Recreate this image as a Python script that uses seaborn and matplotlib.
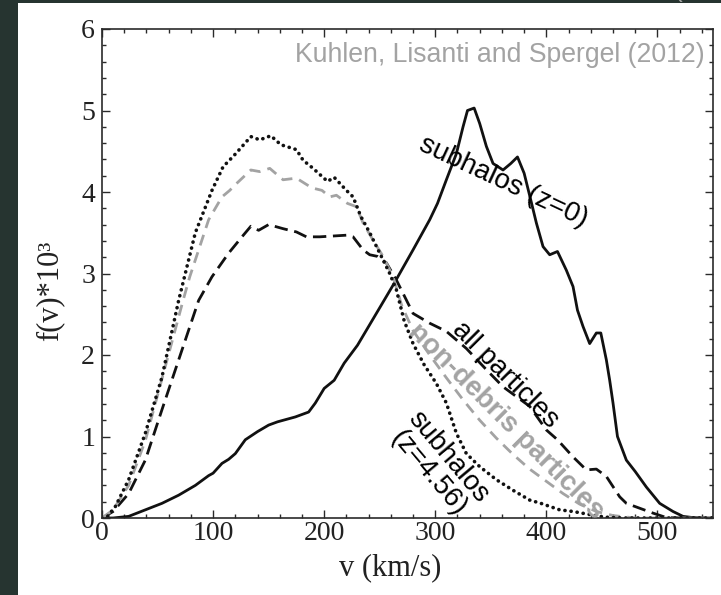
import matplotlib
matplotlib.use("Agg")
import matplotlib.pyplot as plt
import seaborn as sns
from matplotlib.patches import Rectangle
from matplotlib.ticker import MultipleLocator

# Speed distributions f(v) (x 10^3) versus v in km/s
v_sub0 = [0, 10, 24, 39, 54, 69, 84, 96, 100, 108, 114, 120, 129, 140, 150, 158, 174, 186, 192,
          200, 209, 218, 230, 240, 250, 263, 280, 295, 302, 310, 319, 325, 329, 335, 340, 346, 352,
          361, 368, 374, 380, 386, 391, 397, 403, 410, 418, 424, 428, 433, 439, 445, 449, 454, 457,
          460, 464, 472, 480, 490, 502, 514, 523, 535, 550]
f_sub0 = [0, 0.0, 0.02, 0.10, 0.18, 0.28, 0.40, 0.52, 0.55, 0.67, 0.72, 0.79, 0.96, 1.06, 1.14,
          1.18, 1.24, 1.30, 1.41, 1.59, 1.69, 1.90, 2.12, 2.35, 2.58, 2.88, 3.29, 3.66, 3.86, 4.15,
          4.47, 4.80, 5.00, 5.03, 4.84, 4.56, 4.35, 4.27, 4.35, 4.43, 4.23, 3.90, 3.62, 3.33, 3.23,
          3.27, 3.04, 2.84, 2.55, 2.35, 2.14, 2.27, 2.27, 1.94, 1.69, 1.41, 1.00, 0.71, 0.57, 0.38,
          0.18, 0.08, 0.02, 0.0, 0.0]

v_all = [0, 10, 24, 39, 54, 69, 87, 99, 114, 126, 134, 141, 150, 163, 175, 184, 196, 220, 226,
         235, 241, 248, 256, 265, 280, 295, 310, 328, 346, 361, 373, 385, 400, 410, 424, 436, 445,
         454, 466, 472, 484, 496, 507, 520, 550]
f_all = [0, 0.08, 0.30, 0.71, 1.33, 1.94, 2.67, 2.96, 3.25, 3.45, 3.58, 3.53, 3.60, 3.55, 3.51,
         3.45, 3.45, 3.47, 3.45, 3.29, 3.23, 3.21, 3.13, 2.92, 2.51, 2.39, 2.29, 2.08, 1.82, 1.61,
         1.49, 1.37, 1.08, 0.96, 0.75, 0.59, 0.60, 0.51, 0.26, 0.18, 0.12, 0.06, 0.01, 0.0, 0.0]

v_nondebris = [0, 10, 24, 39, 57, 73, 79, 96, 108, 115, 120, 134, 142, 151, 163, 175, 189, 198,
               205, 211, 221, 229, 235, 244, 253, 262, 270, 280, 295, 310, 325, 340, 355, 370,
               385, 400, 415, 430, 445, 460, 480, 550]
f_nondebris = [0, 0.10, 0.40, 0.95, 1.86, 2.67, 2.96, 3.66, 3.94, 4.02, 4.09, 4.27, 4.25, 4.29,
               4.15, 4.17, 4.05, 4.02, 3.94, 3.96, 3.86, 3.82, 3.62, 3.41, 3.21, 2.96, 2.60, 2.30,
               2.00, 1.72, 1.45, 1.20, 0.98, 0.78, 0.60, 0.45, 0.30, 0.17, 0.08, 0.03, 0.0, 0.0]

v_sub456 = [0, 5, 12, 24, 39, 54, 69, 84, 99, 109, 119, 134, 142, 152, 161, 175, 181, 190, 203,
            209, 220, 226, 233, 241, 250, 259, 265, 272, 280, 290, 301, 310, 319, 328, 340, 355,
            370, 385, 395, 412, 424, 440, 453, 470, 550]
f_sub456 = [0, 0.02, 0.14, 0.47, 1.04, 1.73, 2.67, 3.50, 4.02, 4.31, 4.45, 4.68, 4.64, 4.69,
            4.58, 4.52, 4.39, 4.29, 4.13, 4.18, 4.02, 3.94, 3.70, 3.50, 3.25, 3.00, 2.80, 2.42,
            2.14, 1.88, 1.65, 1.41, 1.04, 0.79, 0.63, 0.47, 0.34, 0.22, 0.18, 0.10, 0.08, 0.04,
            0.01, 0.0, 0.0]

x_ticks = [0, 100, 200, 300, 400, 500]
y_ticks = [0, 1, 2, 3, 4, 5, 6]

sns.set_style("ticks")
plt.rcParams["font.family"] = ["Liberation Sans", "DejaVu Sans"]

SERIF = ["Liberation Serif", "DejaVu Serif"]
GREY = "#a3a3a3"
INK = "#111111"

fig = plt.figure(figsize=(7.21, 5.95), dpi=100, facecolor="#263430")
fig.add_artist(Rectangle((18 / 721, 0), 1, 1 - 3 / 595, transform=fig.transFigure,
                         facecolor="white", edgecolor="none", zorder=-5))
ax = fig.add_axes([102 / 721, 1 - 518 / 595, 611 / 721, 489 / 595])
ax.set_facecolor("white")

sns.lineplot(x=v_sub0, y=f_sub0, ax=ax, color=INK, linewidth=2.0, sort=False,
             estimator=None, solid_joinstyle="round")
sns.lineplot(x=v_all, y=f_all, ax=ax, color=INK, linewidth=2.0, sort=False,
             estimator=None, linestyle=(0, (4.8, 2.4)))
sns.lineplot(x=v_nondebris, y=f_nondebris, ax=ax, color=GREY, linewidth=2.0, sort=False,
             estimator=None, linestyle=(0, (4.0, 2.6)))
sns.lineplot(x=v_sub456, y=f_sub456, ax=ax, color=INK, linewidth=2.6, sort=False,
             estimator=None, linestyle=(0, (0.05, 1.65)), dash_capstyle="round")

ax.set_xlim(0, 550)
ax.set_ylim(0, 6)
ax.set_xticks(x_ticks)
ax.set_yticks(y_ticks)
ax.xaxis.set_minor_locator(MultipleLocator(20))
ax.yaxis.set_minor_locator(MultipleLocator(0.2))
ax.tick_params(which="both", direction="in", top=True, right=True, color="#2a2a2a", width=1.0)
ax.tick_params(which="major", length=6)
ax.tick_params(which="minor", length=3)
ax.tick_params(axis="x", which="major", pad=2, labelsize=20)
ax.tick_params(axis="y", which="major", pad=5, labelsize=20)
for lab in ax.get_xticklabels() + ax.get_yticklabels():
    lab.set_fontfamily(SERIF)
    lab.set_color("#222222")
for sp in ax.spines.values():
    sp.set_color("#2a2a2a")
    sp.set_linewidth(1.2)

ax.set_xlabel("v (km/s)", fontfamily=SERIF, fontsize=22, color="#222222")
ax.set_ylabel("f(v)*10³", fontfamily=SERIF, fontsize=22, color="#222222")
ax.xaxis.set_label_coords(0.471, -0.072)
ax.yaxis.set_label_coords(-0.062, 0.464)

ax.text(0.987, 0.9325, "Kuhlen, Lisanti and Spergel (2012)", transform=ax.transAxes,
        ha="right", va="baseline", fontsize=19.2, color=GREY)

ax.text(361, 4.12, "subhalos (z=0)", rotation=-25, ha="center", va="center",
        fontsize=20, color="black", rotation_mode="anchor")
ax.text(363, 1.76, "all particles", rotation=-45, ha="center", va="center",
        fontsize=20, color="black", rotation_mode="anchor")
ax.text(364, 1.19, "non-debris particles", rotation=-45, ha="center", va="center",
        fontsize=20, color=GREY, fontweight="bold", rotation_mode="anchor", zorder=5)
ax.text(303, 0.65, "subhalos\n(z=4.56)", rotation=-50, ha="center", va="center",
        multialignment="center", fontsize=20, color="black", rotation_mode="anchor",
        linespacing=1.0)

fig.text(673 / 721, 1 + 2.5 / 595, "(", ha="left", va="baseline", fontsize=19, color=GREY)

fig.savefig("out.png", dpi=100, facecolor=fig.get_facecolor())
